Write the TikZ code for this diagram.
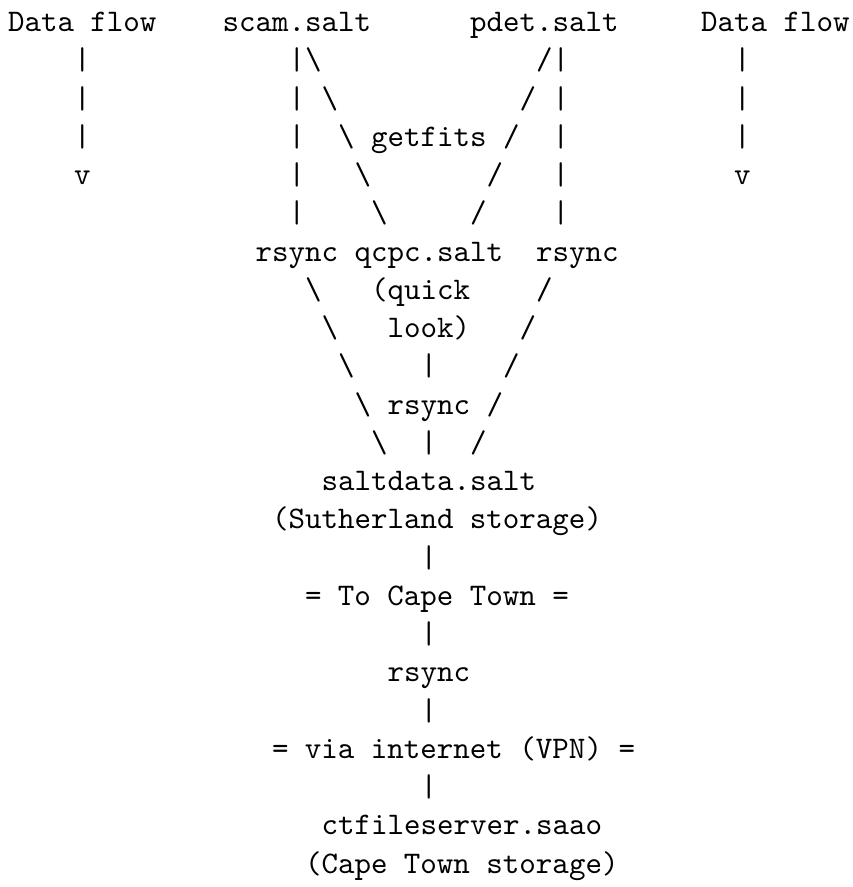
\documentclass[tikz,border=0pt]{standalone}
\usepackage{tikz}

\begin{document}
\begin{tikzpicture}[x=5.25pt, y=-12.17pt,
  ascii/.style={font=\ttfamily, anchor=base west, inner sep=0pt, outer sep=0pt}]
  \useasboundingbox (-0.485,-0.829) rectangle (51.15,22.36);

  \node[ascii] (flowL) at (0,0) {Data flow};
  \node[ascii] (scam) at (13,0) {scam.salt};
  \node[ascii] (pdet) at (28,0) {pdet.salt};
  \node[ascii] (flowR) at (42,0) {Data flow};

  \foreach \r in {1,2,3} {
    \node[ascii] (flowLbar\r) at (4,\r) {|};
    \node[ascii] (flowRbar\r) at (44,\r) {|};
  }
  \node[ascii] (flowLv) at (4,4) {v};
  \node[ascii] (flowRv) at (44,4) {v};

  \foreach \r in {1,...,5} {
    \node[ascii] (scambar\r) at (17,\r) {|};
    \node[ascii] (pdetbar\r) at (33,\r) {|};
    \node[ascii] (getL\r) at (17+\r,\r) {\textbackslash};
    \node[ascii] (getR\r) at (33-\r,\r) {/};
  }
  \node[ascii] (getfits) at (22,3) {getfits};

  \node[ascii] (rsyncL) at (15,6) {rsync};
  \node[ascii] (qcpc) at (21,6) {qcpc.salt};
  \node[ascii] (rsyncR) at (32,6) {rsync};
  \node[ascii] (quick) at (22,7) {(quick};
  \node[ascii] (look) at (23,8) {look)};
  \node[ascii] (rsyncM) at (23,10) {rsync};

  \foreach \r in {7,...,11} {
    \node[ascii] (inL\r) at (11+\r,\r) {\textbackslash};
    \node[ascii] (inR\r) at (39-\r,\r) {/};
  }
  \foreach \r in {9,11,14,16,18,20}
    \node[ascii] (trunk\r) at (25,\r) {|};

  \node[ascii] (saltdata) at (19,12) {saltdata.salt};
  \node[ascii] (suth) at (16,13) {(Sutherland storage)};
  \node[ascii] (tocape) at (18,15) {= To Cape Town =};
  \node[ascii] (rsyncCT) at (23,17) {rsync};
  \node[ascii] (vpn) at (16,19) {= via internet (VPN) =};
  \node[ascii] (ctfs) at (19,21) {ctfileserver.saao};
  \node[ascii] (ctstore) at (18,22) {(Cape Town storage)};
\end{tikzpicture}
\end{document}
